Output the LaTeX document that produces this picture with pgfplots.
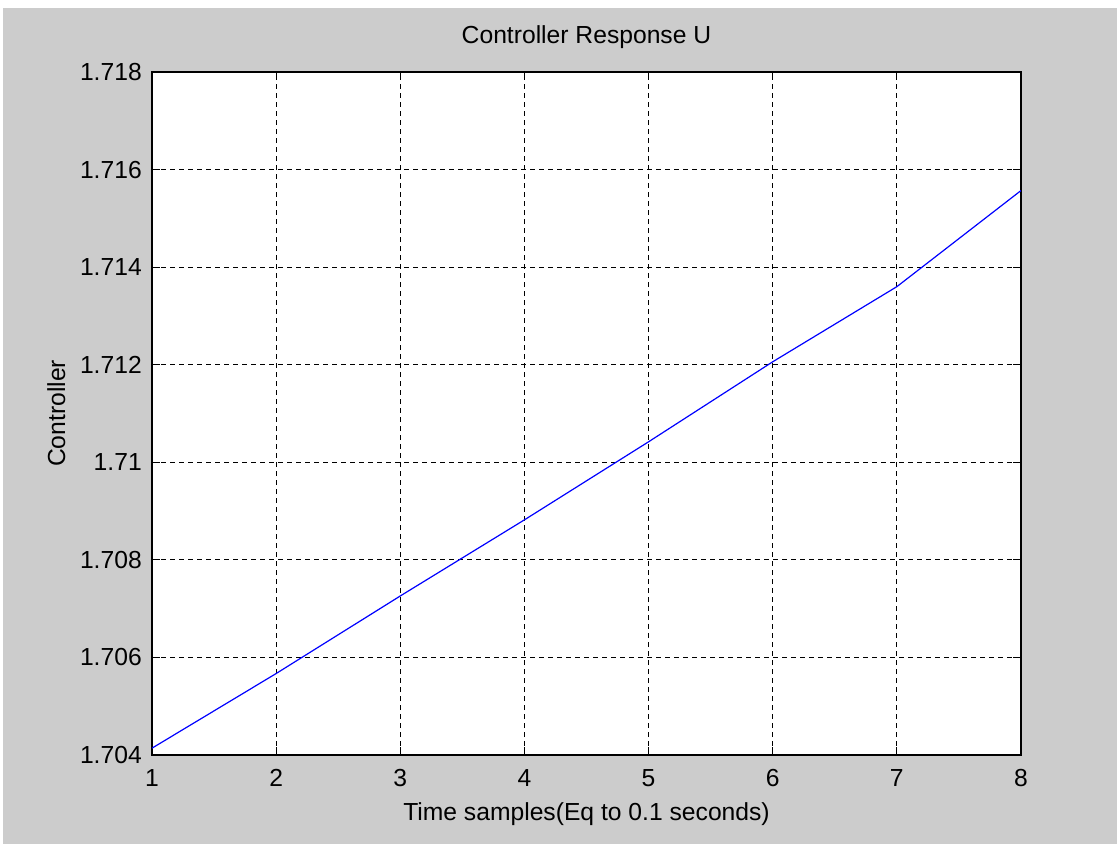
\documentclass[border=0pt]{standalone}
\usepackage{fontspec}
\setmainfont{Liberation Sans}
\usepackage{pgfplots}
\pgfplotsset{compat=1.18}
\definecolor{figgray}{RGB}{204,204,204}
\definecolor{lineblue}{RGB}{0,0,255}

\begin{document}
\fontsize{18.5}{22}\selectfont
\begin{tikzpicture}
% figure background (1px = 0.75pt)
\fill[white] (0,0) rectangle (837.75pt,633pt);
\fill[figgray] (2.25pt,0) rectangle (837.75pt,627pt);
\begin{axis}[
    at={(114pt,66.75pt)}, anchor=south west,
    scale only axis,
    width=651.75pt, height=512.25pt,
    xmin=1, xmax=8, ymin=1.704, ymax=1.718,
    xtick={1,2,3,4,5,6,7,8},
    ytick={1.704,1.706,1.708,1.710,1.712,1.714,1.716,1.718},
    yticklabels={1.704,1.706,1.708,1.71,1.712,1.714,1.716,1.718},
    /pgf/number format/assume math mode=true,
    axis background/.style={fill=white},
    axis line style={black, line width=1pt},
    tick style={black, line width=0.8pt},
    tick align=inside,
    major tick length=6pt,
    grid=major,
    major grid style={black, line width=0.85pt, dash pattern=on 4pt off 2.75pt},
    yticklabel style={anchor=east, inner sep=0pt, xshift=-7.5pt},
    xticklabel style={anchor=north, inner sep=0pt, yshift=-10.5pt},
    title={Controller Response U},
    title style={at={(axis description cs:0.5,1.0293)}, anchor=base, inner sep=0pt},
    xlabel={Time samples(Eq to 0.1 seconds)},
    xlabel style={at={(axis description cs:0.5,-0.0952)}, anchor=base, inner sep=0pt},
    ylabel={Controller},
    ylabel style={at={(axis description cs:-0.1001,0.5)}, anchor=base, inner sep=0pt},
]
\addplot[color=lineblue, line width=0.9pt]
    coordinates {(1,1.70414)(2,1.70567)(3,1.70726)(4,1.70882)(5,1.71042)(6,1.71206)(7,1.71360)(8,1.71557)};
\end{axis}
\end{tikzpicture}
\end{document}
